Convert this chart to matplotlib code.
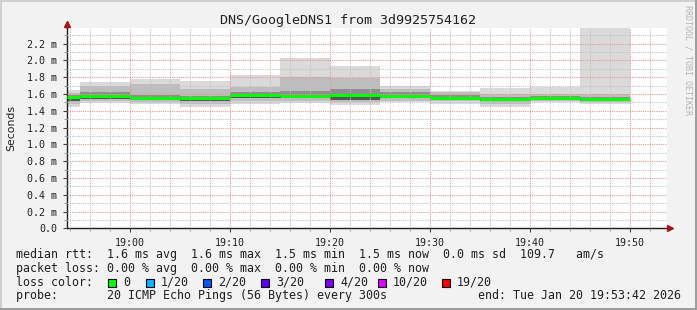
import matplotlib
matplotlib.use("Agg")
import matplotlib.pyplot as plt
from matplotlib.patches import Rectangle
from matplotlib.ticker import MultipleLocator, FuncFormatter

W, H = 697, 310

title = "DNS/GoogleDNS1 from 3d9925754162"
t_start = "18:53:42"
t_end = "19:53:42"

# 300 s steps, the first one is cut by the graph start
step_edges = ["18:53:42", "18:55", "19:00", "19:05", "19:10", "19:15", "19:20",
              "19:25", "19:30", "19:35", "19:40", "19:45", "19:50"]

# ping rtt spread per step (ms)
rtt_min = [1.45, 1.49, 1.48, 1.45, 1.48, 1.49, 1.47, 1.50, 1.48, 1.45, 1.50, 1.48]
rtt_p10 = [1.48, 1.51, 1.50, 1.48, 1.51, 1.51, 1.50, 1.52, 1.51, 1.48, 1.51, 1.50]
rtt_p25 = [1.52, 1.54, 1.53, 1.52, 1.55, 1.55, 1.53, 1.55, 1.53, 1.51, 1.53, 1.52]
rtt_med = [1.565, 1.573, 1.553, 1.546, 1.589, 1.58, 1.585, 1.58, 1.557, 1.541, 1.549, 1.534]
rtt_p75 = [1.59, 1.62, 1.59, 1.58, 1.62, 1.63, 1.66, 1.62, 1.59, 1.56, 1.57, 1.56]
rtt_p90 = [1.61, 1.70, 1.72, 1.66, 1.68, 1.80, 1.79, 1.66, 1.62, 1.60, 1.60, 1.60]
rtt_max = [1.65, 1.74, 1.78, 1.75, 1.82, 2.03, 1.93, 1.70, 1.64, 1.67, 1.68, 2.60]

legend_rows = [
    "median rtt:  1.6 ms avg  1.6 ms max  1.5 ms min  1.5 ms now  0.0 ms sd  109.7   am/s",
    "packet loss: 0.00 % avg  0.00 % max  0.00 % min  0.00 % now",
    "loss color:",
    "probe:       20 ICMP Echo Pings (56 Bytes) every 300s",
]
loss_labels = ["0", "1/20", "2/20", "3/20", "4/20", "10/20", "19/20"]
loss_colors = ["#00ff00", "#00b8ff", "#0059ff", "#5e00ff", "#7e00ff", "#dd00ff", "#ff0000"]
end_text = "end: Tue Jan 20 19:53:42 2026"


def tmin(s):
    p = [int(v) for v in s.split(":")]
    return p[0] * 60 + p[1] + (p[2] / 60 if len(p) > 2 else 0)


def fx(px):
    return px / W


def fy(py):
    return 1 - py / H


mono = "DejaVu Sans Mono"
bg = "#f2f2f2"

fig = plt.figure(figsize=(W / 100, H / 100), dpi=100, facecolor=bg)
ax = fig.add_axes([fx(67), fy(228.3), 600 / W, 200.3 / H])
ax.set_facecolor("white")

edges = [tmin(s) for s in step_edges]
left = edges[:-1]
width = [b - a for a, b in zip(edges[:-1], edges[1:])]

#smoke
bands = [(rtt_min, rtt_max, "#dadada"),
         (rtt_p10, rtt_p90, "#bdbdbd"),
         (rtt_p25, rtt_p75, "#8e8e8e")]
for lo, hi, c in bands:
    ax.bar(left, [h - l for l, h in zip(lo, hi)], width=width, bottom=lo,
           align="edge", color=c, linewidth=0, zorder=1)
ax.bar(left, [m - l for l, m in zip(rtt_p25, rtt_med)], width=width, bottom=rtt_p25,
       align="edge", color="#555555", linewidth=0, zorder=1)

#median
ax.hlines(rtt_med, edges[:-1], edges[1:], color=loss_colors[0], linewidth=2.2, zorder=4)

ax.set_xlim(tmin(t_start), tmin(t_end))
ax.set_ylim(0, 2.385)

ax.xaxis.set_major_locator(MultipleLocator(10))
ax.xaxis.set_minor_locator(MultipleLocator(2))
ax.yaxis.set_major_locator(MultipleLocator(0.2))
ax.yaxis.set_minor_locator(MultipleLocator(0.1))
ax.xaxis.set_major_formatter(FuncFormatter(lambda v, p: "%d:%02d" % (int(round(v)) // 60, int(round(v)) % 60)))
ax.yaxis.set_major_formatter(FuncFormatter(lambda v, p: "0.0" if abs(v) < 1e-9 else "%.1f m" % v))

ax.set_axisbelow(False)
ax.grid(which="minor", color="#c4c4c4", linestyle=(0, (1, 1)), linewidth=0.8, zorder=2)
ax.grid(which="major", color="#e59a9a", linestyle=(0, (1, 1)), linewidth=0.8, zorder=2)

for s in ["top", "right"]:
    ax.spines[s].set_visible(False)
for s in ["left", "bottom"]:
    ax.spines[s].set_color("#202020")
    ax.spines[s].set_linewidth(1.0)
ax.tick_params(which="major", length=3, width=0.8, color="#404040", pad=4,
               labelsize=7.2, labelfontfamily=mono, labelcolor="#202020")
ax.tick_params(which="minor", length=2, width=0.6, color="#909090")

# axis arrows, the axis lines run a few pixels past the plot area
ax.plot([0, 0], [1.0, 1.02], color="#202020", lw=1.0, transform=ax.transAxes, clip_on=False, zorder=5)
ax.plot([1.0, 1.005], [0, 0], color="#202020", lw=1.0, transform=ax.transAxes, clip_on=False, zorder=5)
ax.plot([0], [1.02], marker="^", markersize=4.5, color="#a01818", transform=ax.transAxes, clip_on=False, zorder=6)
ax.plot([1.005], [0], marker=">", markersize=4.5, color="#a01818", transform=ax.transAxes, clip_on=False, zorder=6)

fig.text(fx(348), fy(24), title, family=mono, fontsize=9.6, ha="center", va="baseline", color="#202020")
fig.text(fx(11), fy(128), "Seconds", family="DejaVu Sans", fontsize=7.8, rotation=90,
         ha="center", va="center", color="#202020")
fig.text(fx(688), fy(5), "RRDTOOL / TOBI OETIKER", family=mono, fontsize=6, rotation=270,
         ha="center", va="top", color="#b4b4b4")

row_y = [258.3, 271.7, 285.7, 299.3]
for txt, y in zip(legend_rows, row_y):
    fig.text(fx(16), fy(y), txt, family=mono, fontsize=8.4, va="baseline", color="#202020")
fig.text(fx(681), fy(row_y[3]), end_text, family=mono, fontsize=8.4, va="baseline", ha="right", color="#202020")

sq_x = [108, 146, 203, 261, 325, 378, 442]
for x, lab, c in zip(sq_x, loss_labels, loss_colors):
    fig.patches.append(Rectangle((fx(x), fy(287)), 8 / W, 8 / H, transform=fig.transFigure,
                                 facecolor=c, edgecolor="black", linewidth=0.8))
    fig.text(fx(x + 15), fy(row_y[2]), lab, family=mono, fontsize=8.4, va="baseline", color="#202020")

# frame
for (x, y, w, h, c) in [(0, 0, W, 2, "#cfcfcf"), (0, 0, 2, H, "#cfcfcf"),
                        (0, H - 2, W, 2, "#9e9e9e"), (W - 2, 0, 2, H, "#9e9e9e")]:
    fig.patches.append(Rectangle((fx(x), fy(y + h)), w / W, h / H, transform=fig.transFigure,
                                 facecolor=c, edgecolor="none"))

fig.savefig("out.png", dpi=100, facecolor=bg)
